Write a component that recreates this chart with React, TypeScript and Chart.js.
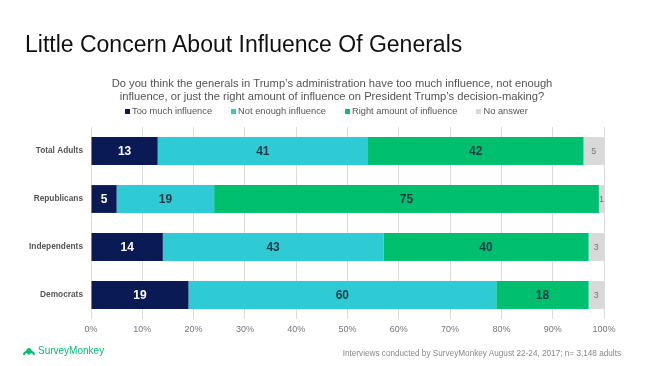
import React, { useEffect, useRef } from "react";
import { Chart, registerables } from "chart.js";

Chart.register(...registerables);

const categories = ["Total Adults", "Republicans", "Independents", "Democrats"];
const seriesNames = ["Too much influence", "Not enough influence", "Right amount of influence", "No answer"];
const tooMuch = [13, 5, 14, 19];
const notEnough = [41, 19, 43, 60];
const rightAmount = [42, 75, 40, 18];
const noAnswer = [5, 1, 3, 3];
const xTicks = [0, 10, 20, 30, 40, 50, 60, 70, 80, 90, 100];

const colors = ["#0a1a55", "#2ecbd4", "#00bf6f", "#d9d9d9"];
const labelColors = ["#ffffff", "#1d3b47", "#1d3b47", "#777777"];

const FONT = "'Liberation Sans', Arial, Helvetica, sans-serif";

const barLabelPlugin = {
  id: "barLabels",
  afterDatasetsDraw(chart: any) {
    const ctx = chart.ctx;
    const area = chart.chartArea;
    ctx.save();
    chart.data.datasets.forEach((ds: any, di: number) => {
      const meta = chart.getDatasetMeta(di);
      meta.data.forEach((bar: any, i: number) => {
        const v = ds.data[i];
        const left = Math.max(Math.min(bar.base, bar.x), area.left);
        const right = Math.min(Math.max(bar.base, bar.x), area.right);
        const cx = (left + right) / 2;
        if (di === 3) {
          ctx.font = `9px ${FONT}`;
        } else {
          ctx.font = `bold 12px ${FONT}`;
        }
        ctx.fillStyle = labelColors[di];
        ctx.textAlign = "center";
        ctx.textBaseline = "middle";
        ctx.fillText(String(v), cx, bar.y + 1);
      });
    });
    ctx.restore();
  },
};

export default function App() {
  const ref = useRef<HTMLCanvasElement>(null);
  useEffect(() => {
    if (!ref.current) return;
    const series = [tooMuch, notEnough, rightAmount, noAnswer];
    const chart = new Chart(ref.current, {
      type: "bar",
      data: {
        labels: categories,
        datasets: series.map((d, i) => ({
          label: seriesNames[i],
          data: d,
          backgroundColor: colors[i],
          borderWidth: 0,
          barPercentage: 0.58,
          categoryPercentage: 1,
        })),
      },
      options: {
        indexAxis: "y",
        responsive: false,
        animation: false,
        layout: { padding: { top: 127, right: 46, bottom: 27, left: 0 } },
        plugins: {
          legend: { display: false },
          tooltip: { enabled: false },
          title: { display: false },
        },
        scales: {
          x: {
            stacked: true,
            min: 0,
            max: 100,
            afterFit: (s: any) => { s.height = 20; },
            afterBuildTicks: (s: any) => { s.ticks = xTicks.map((v) => ({ value: v })); },
            ticks: {
              callback: (v: any) => `${v}%`,
              font: { family: FONT, size: 9 },
              color: "#777777",
              padding: 5,
              maxRotation: 0,
            },
            grid: { color: "#dcdcdc", drawTicks: false, lineWidth: 1 },
            border: { display: false },
          },
          y: {
            stacked: true,
            afterFit: (s: any) => { s.width = 91; },
            ticks: {
              font: { family: FONT, size: 8.3, weight: "bold" },
              color: "#555555",
              padding: 8,
            },
            grid: { display: false, drawTicks: false },
            border: { display: false },
          },
        },
      },
      plugins: [barLabelPlugin],
    } as any);
    return () => chart.destroy();
  }, []);

  const legendItems = seriesNames.map((n, i) => (
    <div key={n} style={{ display: "flex", alignItems: "center", marginRight: 19 }}>
      <span style={{ display: "inline-block", width: 5, height: 5, background: colors[i], marginRight: 2 }} />
      <span>{n}</span>
    </div>
  ));

  return (
    <div style={{ position: "fixed", left: 0, top: 0, width: 650, height: 366, background: "#fff", fontFamily: FONT, overflow: "hidden" }}>
      <canvas ref={ref} width={650} height={366} style={{ position: "absolute", left: 0, top: 0, width: 650, height: 366 }} />
      <div style={{ position: "absolute", left: 25, top: 33, fontSize: 23, lineHeight: "22px", color: "#111", whiteSpace: "nowrap" }}>
        Little Concern About Influence Of Generals
      </div>
      <div style={{ position: "absolute", left: 32, width: 600, top: 77, fontSize: 11.2, lineHeight: "13px", color: "#555", textAlign: "center" }}>
        Do you think the generals in Trump’s administration have too much influence, not enough
        <br />
        influence, or just the right amount of influence on President Trump’s decision-making?
      </div>
      <div style={{ position: "absolute", left: 125, top: 105, fontSize: 9.3, lineHeight: "12px", color: "#555", display: "flex", whiteSpace: "nowrap" }}>
        {legendItems}
      </div>
      <div style={{ position: "absolute", left: 22, top: 345, display: "flex", alignItems: "center", color: "#00bf6f", fontSize: 10, lineHeight: "12px" }}>
        <svg width="14" height="9" viewBox="0 0 14 9" style={{ marginRight: 2 }}>
          <path d="M1 8 C1 5 3 4 4 4 C4.5 2 6 1 7 1 C8 1 9.5 2 10 4 C11 4 13 5 13 8 L11 8 C11 6.5 10 6 9 6 C8.5 7 7.5 7.5 7 7.5 C6.5 7.5 5.5 7 5 6 C4 6 3 6.5 3 8 Z" fill="#00bf6f" />
        </svg>
        <span>SurveyMonkey</span>
      </div>
      <div style={{ position: "absolute", right: 29, top: 348, fontSize: 8.2, lineHeight: "11px", color: "#888", whiteSpace: "nowrap" }}>
        Interviews conducted by SurveyMonkey August 22-24, 2017; n= 3,148 adults
      </div>
    </div>
  );
}
